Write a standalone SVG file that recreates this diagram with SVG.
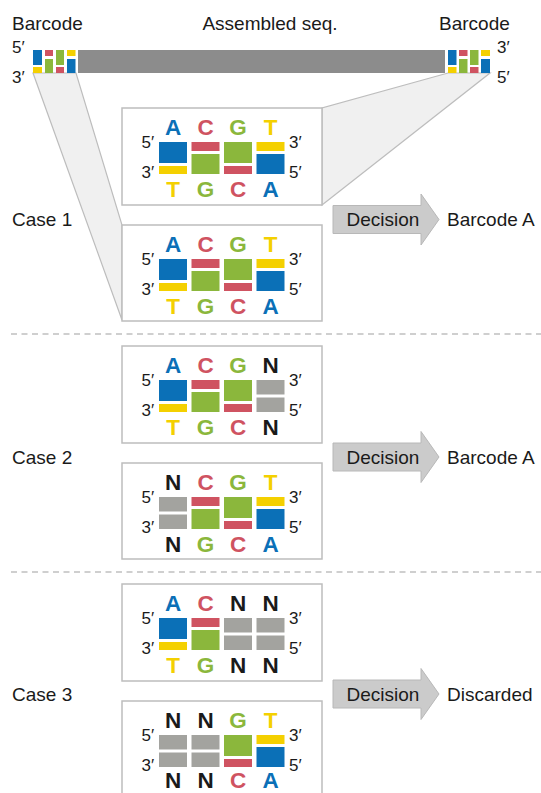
<svg xmlns="http://www.w3.org/2000/svg" width="541" height="793" viewBox="0 0 541 793">
<style>
text{font-family:"Liberation Sans",Arial,sans-serif;fill:#1a1a1a}
.lbl{font-size:19px}
.pr{font-size:17px}
.b{font-size:22.5px;font-weight:bold;text-anchor:middle}
.box{fill:#fff;stroke:#bdbdbd;stroke-width:1.5}
.call{fill:#f0f0f0;stroke:#bdbdbd;stroke-width:1.2}
.blu{fill:#0b70b7}.red{fill:#cf5361}.grn{fill:#8bb73c}.yel{fill:#f4d000}.gry{fill:#a3a39f}.blk{fill:#1a1a1a}
text.blu{fill:#0b70b7}text.red{fill:#cf5361}text.grn{fill:#8bb73c}text.yel{fill:#f4d000}text.blk{fill:#1a1a1a}
.sep{stroke:#cfcfcf;stroke-width:2;stroke-dasharray:6 4.5;fill:none}
.arr{fill:#cbcbcb;stroke:#b8b8b8;stroke-width:1}
</style>

<g id="header">
<text class="lbl" x="12" y="30">Barcode</text>
<text class="lbl" x="270" y="30" text-anchor="middle">Assembled seq.</text>
<text class="lbl" x="439" y="30">Barcode</text>
<text class="pr" x="12" y="53">5′</text>
<text class="pr" x="12" y="83">3′</text>
<text class="pr" x="497" y="53">3′</text>
<text class="pr" x="497" y="83">5′</text>
</g>

<g id="connectors">
<polygon class="call" points="33,73 76,73 122,225 122,320"/>
<polygon class="call" points="448,73 490,73 322,205 322,108"/>
</g>

<g id="sequence">
<rect x="78" y="50" width="367" height="23" fill="#8c8c8c"/>
<rect class="blu" x="33" y="50" width="9" height="15"/><rect class="yel" x="33" y="67" width="9" height="6"/>
<rect class="red" x="45" y="50" width="8" height="6"/><rect class="grn" x="45" y="59" width="8" height="14"/>
<rect class="grn" x="56" y="50" width="8" height="15"/><rect class="red" x="56" y="67" width="8" height="6"/>
<rect class="yel" x="67" y="50" width="8.5" height="6"/><rect class="blu" x="67" y="59" width="8.5" height="14"/>
<rect class="blu" x="448" y="50" width="8.5" height="15"/><rect class="yel" x="448" y="67" width="8.5" height="6"/>
<rect class="red" x="459" y="50" width="8.5" height="6"/><rect class="grn" x="459" y="59" width="8.5" height="14"/>
<rect class="grn" x="470" y="50" width="8.5" height="15"/><rect class="red" x="470" y="67" width="8.5" height="6"/>
<rect class="yel" x="481" y="50" width="9" height="6"/><rect class="blu" x="481" y="59" width="9" height="14"/>
</g>

<!-- Case 1 box A (Y=108) -->
<g id="case1-top">
<rect class="box" x="122" y="108" width="200" height="97"/>
<text class="pr" x="141.5" y="148">5′</text><text class="pr" x="141.5" y="178">3′</text>
<text class="pr" x="289" y="148">3′</text><text class="pr" x="289" y="178">5′</text>
<text class="b blu" x="173" y="135">A</text><text class="b red" x="205.5" y="135">C</text><text class="b grn" x="238" y="135">G</text><text class="b yel" x="270.5" y="135">T</text>
<rect class="blu" x="159" y="142" width="28" height="21"/><rect class="yel" x="159" y="166" width="28" height="8"/>
<rect class="red" x="191.5" y="142" width="28" height="9"/><rect class="grn" x="191.5" y="154" width="28" height="20"/>
<rect class="grn" x="224" y="142" width="28" height="21"/><rect class="red" x="224" y="166" width="28" height="8"/>
<rect class="yel" x="256.5" y="142" width="28" height="9"/><rect class="blu" x="256.5" y="154" width="28" height="20"/>
<text class="b yel" x="173" y="197">T</text><text class="b grn" x="205.5" y="197">G</text><text class="b red" x="238" y="197">C</text><text class="b blu" x="270.5" y="197">A</text>
</g>

<!-- Case 1 box B (Y=225) -->
<g id="case1-bottom">
<rect class="box" x="122" y="225" width="200" height="96"/>
<text class="pr" x="141.5" y="265">5′</text><text class="pr" x="141.5" y="295">3′</text>
<text class="pr" x="289" y="265">3′</text><text class="pr" x="289" y="295">5′</text>
<text class="b blu" x="173" y="252">A</text><text class="b red" x="205.5" y="252">C</text><text class="b grn" x="238" y="252">G</text><text class="b yel" x="270.5" y="252">T</text>
<rect class="blu" x="159" y="259" width="28" height="21"/><rect class="yel" x="159" y="283" width="28" height="8"/>
<rect class="red" x="191.5" y="259" width="28" height="9"/><rect class="grn" x="191.5" y="271" width="28" height="20"/>
<rect class="grn" x="224" y="259" width="28" height="21"/><rect class="red" x="224" y="283" width="28" height="8"/>
<rect class="yel" x="256.5" y="259" width="28" height="9"/><rect class="blu" x="256.5" y="271" width="28" height="20"/>
<text class="b yel" x="173" y="314">T</text><text class="b grn" x="205.5" y="314">G</text><text class="b red" x="238" y="314">C</text><text class="b blu" x="270.5" y="314">A</text>
</g>

<g id="case1-decision">
<text class="lbl" x="12" y="226">Case 1</text>
<polygon class="arr" points="333,205.5 421,205.5 421,194 439,219.5 421,245 421,233.5 333,233.5"/>
<text class="lbl" x="383" y="226" text-anchor="middle">Decision</text>
<text class="lbl" x="447" y="226">Barcode A</text>
</g>

<line class="sep" x1="11" y1="334" x2="541" y2="334"/>

<!-- Case 2 box A (Y=346) -->
<g id="case2-top">
<rect class="box" x="122" y="346" width="200" height="97"/>
<text class="pr" x="141.5" y="386">5′</text><text class="pr" x="141.5" y="416">3′</text>
<text class="pr" x="289" y="386">3′</text><text class="pr" x="289" y="416">5′</text>
<text class="b blu" x="173" y="373">A</text><text class="b red" x="205.5" y="373">C</text><text class="b grn" x="238" y="373">G</text><text class="b blk" x="270.5" y="373">N</text>
<rect class="blu" x="159" y="380" width="28" height="21"/><rect class="yel" x="159" y="404" width="28" height="8"/>
<rect class="red" x="191.5" y="380" width="28" height="9"/><rect class="grn" x="191.5" y="392" width="28" height="20"/>
<rect class="grn" x="224" y="380" width="28" height="21"/><rect class="red" x="224" y="404" width="28" height="8"/>
<rect class="gry" x="256.5" y="380" width="28" height="14.5"/><rect class="gry" x="256.5" y="397.5" width="28" height="14.5"/>
<text class="b yel" x="173" y="435">T</text><text class="b grn" x="205.5" y="435">G</text><text class="b red" x="238" y="435">C</text><text class="b blk" x="270.5" y="435">N</text>
</g>

<!-- Case 2 box B (Y=463) -->
<g id="case2-bottom">
<rect class="box" x="122" y="463" width="200" height="96"/>
<text class="pr" x="141.5" y="503">5′</text><text class="pr" x="141.5" y="533">3′</text>
<text class="pr" x="289" y="503">3′</text><text class="pr" x="289" y="533">5′</text>
<text class="b blk" x="173" y="490">N</text><text class="b red" x="205.5" y="490">C</text><text class="b grn" x="238" y="490">G</text><text class="b yel" x="270.5" y="490">T</text>
<rect class="gry" x="159" y="497" width="28" height="14.5"/><rect class="gry" x="159" y="514.5" width="28" height="14.5"/>
<rect class="red" x="191.5" y="497" width="28" height="9"/><rect class="grn" x="191.5" y="509" width="28" height="20"/>
<rect class="grn" x="224" y="497" width="28" height="21"/><rect class="red" x="224" y="521" width="28" height="8"/>
<rect class="yel" x="256.5" y="497" width="28" height="9"/><rect class="blu" x="256.5" y="509" width="28" height="20"/>
<text class="b blk" x="173" y="552">N</text><text class="b grn" x="205.5" y="552">G</text><text class="b red" x="238" y="552">C</text><text class="b blu" x="270.5" y="552">A</text>
</g>

<g id="case2-decision">
<text class="lbl" x="12" y="463.5">Case 2</text>
<polygon class="arr" points="333,443 421,443 421,431.5 439,457 421,482.5 421,471 333,471"/>
<text class="lbl" x="383" y="463.5" text-anchor="middle">Decision</text>
<text class="lbl" x="447" y="463.5">Barcode A</text>
</g>

<line class="sep" x1="11" y1="572" x2="541" y2="572"/>

<!-- Case 3 box A (Y=584) -->
<g id="case3-top">
<rect class="box" x="122" y="584" width="200" height="97"/>
<text class="pr" x="141.5" y="624">5′</text><text class="pr" x="141.5" y="654">3′</text>
<text class="pr" x="289" y="624">3′</text><text class="pr" x="289" y="654">5′</text>
<text class="b blu" x="173" y="611">A</text><text class="b red" x="205.5" y="611">C</text><text class="b blk" x="238" y="611">N</text><text class="b blk" x="270.5" y="611">N</text>
<rect class="blu" x="159" y="618" width="28" height="21"/><rect class="yel" x="159" y="642" width="28" height="8"/>
<rect class="red" x="191.5" y="618" width="28" height="9"/><rect class="grn" x="191.5" y="630" width="28" height="20"/>
<rect class="gry" x="224" y="618" width="28" height="14.5"/><rect class="gry" x="224" y="635.5" width="28" height="14.5"/>
<rect class="gry" x="256.5" y="618" width="28" height="14.5"/><rect class="gry" x="256.5" y="635.5" width="28" height="14.5"/>
<text class="b yel" x="173" y="673">T</text><text class="b grn" x="205.5" y="673">G</text><text class="b blk" x="238" y="673">N</text><text class="b blk" x="270.5" y="673">N</text>
</g>

<!-- Case 3 box B (Y=701) -->
<g id="case3-bottom">
<rect class="box" x="122" y="701" width="200" height="97"/>
<text class="pr" x="141.5" y="741">5′</text><text class="pr" x="141.5" y="771">3′</text>
<text class="pr" x="289" y="741">3′</text><text class="pr" x="289" y="771">5′</text>
<text class="b blk" x="173" y="728">N</text><text class="b blk" x="205.5" y="728">N</text><text class="b grn" x="238" y="728">G</text><text class="b yel" x="270.5" y="728">T</text>
<rect class="gry" x="159" y="735" width="28" height="14.5"/><rect class="gry" x="159" y="752.5" width="28" height="14.5"/>
<rect class="gry" x="191.5" y="735" width="28" height="14.5"/><rect class="gry" x="191.5" y="752.5" width="28" height="14.5"/>
<rect class="grn" x="224" y="735" width="28" height="21"/><rect class="red" x="224" y="759" width="28" height="8"/>
<rect class="yel" x="256.5" y="735" width="28" height="9"/><rect class="blu" x="256.5" y="747" width="28" height="20"/>
<text class="b blk" x="173" y="788">N</text><text class="b blk" x="205.5" y="788">N</text><text class="b red" x="238" y="788">C</text><text class="b blu" x="270.5" y="788">A</text>
</g>

<g id="case3-decision">
<text class="lbl" x="12" y="700.5">Case 3</text>
<polygon class="arr" points="333,680 421,680 421,668.5 439,694 421,719.5 421,708 333,708"/>
<text class="lbl" x="383" y="700.5" text-anchor="middle">Decision</text>
<text class="lbl" x="447" y="700.5">Discarded</text>
</g>
</svg>
